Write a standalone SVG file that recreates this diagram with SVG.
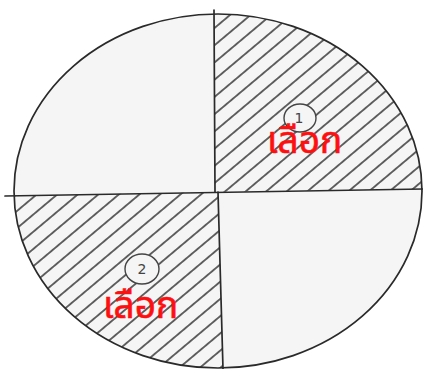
<svg xmlns="http://www.w3.org/2000/svg" width="423" height="369" viewBox="0 0 423 369">
  <style>
    .ln { stroke: #2a2a2a; stroke-width: 1.7; fill: none; stroke-linecap: round; }
    .hl { stroke: #2a2a2a; stroke-width: 1.4; }
    .num { font-family: "DejaVu Sans", "Liberation Sans", sans-serif; font-size: 14px; fill: #444; text-anchor: middle; }
    .lbl { font-family: "Noto Sans Thai", "Noto Sans", "DejaVu Sans", sans-serif; font-size: 37px; fill: #ff1010; stroke: #ff1010; stroke-width: 0.6; }
  </style>
  <defs>
    <clipPath id="ell">
      <ellipse cx="218" cy="191" rx="204" ry="177"/>
    </clipPath>
    <pattern id="hatch" patternUnits="userSpaceOnUse" width="60" height="13.2" patternTransform="rotate(-40)">
      <line class="hl" x1="-5" y1="0.9" x2="65" y2="0.9"/>
    </pattern>
  </defs>
  <rect width="423" height="369" fill="#ffffff"/>
  <g id="disc">
    <ellipse cx="218" cy="191" rx="204" ry="177" fill="#f5f5f5"/>
    <g clip-path="url(#ell)">
      <polygon id="q1-hatch" points="214,0 423,0 423,189 215,192" fill="url(#hatch)"/>
      <polygon id="q2-hatch" points="0,196 218,192 223,369 0,369" fill="url(#hatch)"/>
    </g>
    <ellipse class="ln" cx="218" cy="191" rx="204" ry="177"/>
    <line class="ln" x1="214" y1="10" x2="215" y2="192"/>
    <line class="ln" x1="218" y1="192" x2="223" y2="369"/>
    <line class="ln" x1="5" y1="196" x2="423" y2="189"/>
  </g>
  <g id="marker1">
    <ellipse cx="300" cy="118" rx="16" ry="14" fill="#f5f5f5" stroke="#444" stroke-width="1.4"/>
    <text class="num" x="299" y="123">1</text>
  </g>
  <g id="marker2">
    <ellipse cx="142" cy="269" rx="17" ry="15" fill="#f5f5f5" stroke="#444" stroke-width="1.4"/>
    <text class="num" x="142" y="274">2</text>
  </g>
  <text id="label1" class="lbl" x="267" y="153">เลือก</text>
  <text id="label2" class="lbl" x="103" y="318">เลือก</text>
</svg>
